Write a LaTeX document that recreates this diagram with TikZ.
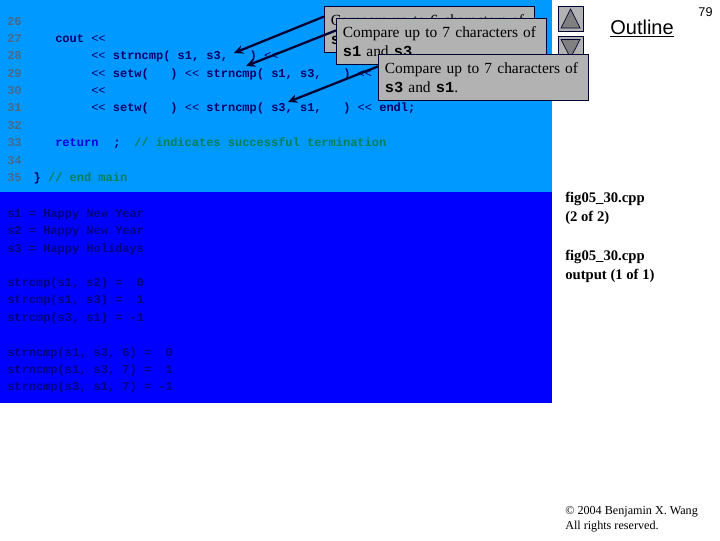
\documentclass[tikz,border=0pt]{standalone}
\usepackage{fontspec}
\setmainfont{Liberation Serif}
\newfontfamily\codefont{Liberation Mono}
\newfontfamily\slidefont{Liberation Sans}
\usetikzlibrary{arrows.meta}
\definecolor{slidesky}{HTML}{0099FF}
\definecolor{slideblue}{HTML}{0000FF}
\definecolor{codeink}{HTML}{000066}
\definecolor{numink}{HTML}{456A90}
\definecolor{keyink}{HTML}{0000E6}
\definecolor{noteink}{HTML}{008055}
\definecolor{outink}{HTML}{000080}
\definecolor{notegray}{HTML}{B2B2B2}
\definecolor{navgray}{HTML}{808080}
\definecolor{edgeink}{HTML}{000033}
\newcommand{\shl}{{\mdseries <{}<}}
\newcommand{\bcode}[1]{{\codefont\bfseries\fontsize{11.5}{14}\selectfont #1}}
\tikzset{
	codeline/.style={anchor=base west,inner sep=0pt,font=\codefont\bfseries\fontsize{9}{11}\selectfont,text=codeink},
	numline/.style={codeline,text=numink},
	outline/.style={codeline,text=outink},
	notebox/.style={draw=edgeink,line width=.75pt,fill=notegray,anchor=north west,align=left,
		minimum width=157.5pt,minimum height=34.5pt,text width=148pt,inner xsep=4.5pt,inner ysep=2pt,
		font=\fontsize{11.6}{14}\selectfont,text=black},
	navbox/.style={draw=edgeink,line width=.75pt,fill=notegray},
	navtip/.style={draw=edgeink,line width=.5pt,fill=navgray},
	sidetext/.style={anchor=base west,inner sep=0pt,align=left,font=\bfseries\fontsize{11}{14}\selectfont},
	pointer/.style={draw=edgeink,line width=1.7pt,-{Stealth[length=7pt,width=6.5pt]}}
}
\begin{document}
\begin{tikzpicture}[x=.75pt,y=-.75pt]
	\useasboundingbox (0,0) rectangle (720,540);
	\fill[white] (0,0) rectangle (720,540);
	\fill[slidesky] (0,0) rectangle (552,192);
	\fill[slideblue] (0,192) rectangle (552,403);
	% line numbers
	\foreach \n/\y in {26/25,27/42,28/59.5,29/77,30/94,31/111,32/129,33/146,34/164,35/181}
		\node[numline] (num\n) at (7,\y) {\n};
	% code
	\node[codeline] (code27) at (55,42) {cout~\shl};
	\node[codeline] (code28) at (55,59.5) {~~~~~\shl~strncmp(~s1,~s3,~~~)~\shl};
	\node[codeline] (code29) at (55,77) {~~~~~\shl~setw(~~~)~\shl~strncmp(~s1,~s3,~~~)~\shl};
	\node[codeline] (code30) at (55,94) {~~~~~\shl};
	\node[codeline] (code31) at (55,111) {~~~~~\shl~setw(~~~)~\shl~strncmp(~s3,~s1,~~~)~\shl~endl;};
	\node[codeline,text=keyink] (code33) at (55,146) {return};
	\node[codeline] (semi33) at (113,146) {;};
	\node[codeline,text=noteink] (note33) at (134,146) {//~indicates~successful~termination};
	\node[codeline] (brace35) at (33.4,181) {\}};
	\node[codeline,text=noteink] (note35) at (47.8,181) {//~end~main};
	% output
	\foreach \i/\y/\t in {1/217/s1 = Happy New Year,2/234/s2 = Happy New Year,3/252/s3 = Happy Holidays,
		4/286/strcmp(s1{,} s2) =~~0,5/303/strcmp(s1{,} s3) =~~1,6/321/strcmp(s3{,} s1) = -1,
		7/356/strncmp(s1{,} s3{,} 6) =~~0,8/373/strncmp(s1{,} s3{,} 7) =~~1,9/390/strncmp(s3{,} s1{,} 7) = -1}
		\node[outline] (out\i) at (7,\y) {\t};
	% navigation
	\node[navbox,minimum width=18.75pt,minimum height=18.75pt,inner sep=0pt] (navup) at (570.5,18.5) {};
	\node[navbox,minimum width=18.75pt,minimum height=18.75pt,inner sep=0pt] (navdown) at (570.5,48.5) {};
	\draw[navtip] (561,28) -- (570.5,9) -- (580,28) -- cycle;
	\draw[navtip] (561,39.5) -- (570.5,58) -- (580,39.5) -- cycle;
	\node[anchor=base,inner sep=0pt,font=\slidefont\fontsize{15}{18}\selectfont] (title) at (642,34) {\underline{Outline}};
	\node[anchor=base,inner sep=0pt,font=\slidefont\fontsize{9.5}{12}\selectfont] (page) at (705.5,16) {79};
	% callouts
	\coordinate (tip1) at (234,53);
	\coordinate (tip2) at (246,66);
	\coordinate (tip3) at (288,102);
	\node[notebox] (note1) at (324,6) {Compare up to 6 characters of\\\bcode{s1} and \bcode{s3}.};
	\draw[pointer] (note1.173.5) -- (tip1);
	\node[notebox] (note2) at (336,18) {Compare up to 7 characters of\\\bcode{s1} and \bcode{s3}.};
	\draw[pointer] (note2.174) -- (tip2);
	\node[notebox] (note3) at (378,54) {Compare up to 7 characters of\\\bcode{s3} and \bcode{s1}.};
	\draw[pointer] (note3.174) -- (tip3);
	% side texts
	\node[sidetext] (side1) at (565,221) {fig05\_30.cpp\\(2 of 2)};
	\node[sidetext] (side2) at (565,279) {fig05\_30.cpp\\output (1 of 1)};
	\node[anchor=base west,inner sep=0pt,align=left,font=\fontsize{9.1}{10.8}\selectfont] (copy) at (565,529) {© 2004 Benjamin X. Wang\\All rights reserved.};
\end{tikzpicture}
\end{document}
